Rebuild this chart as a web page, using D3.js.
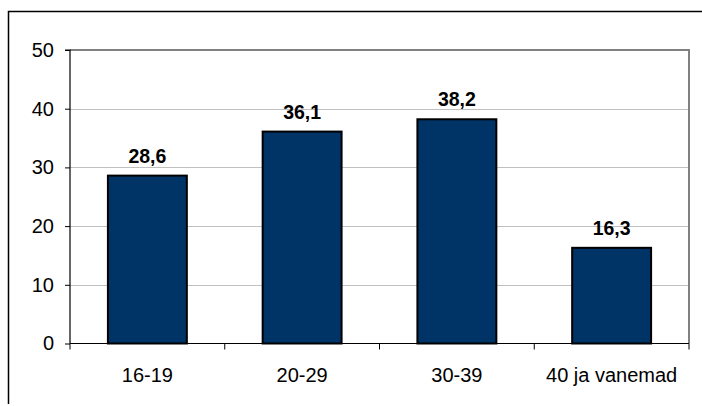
<!DOCTYPE html>
<html><head><meta charset="utf-8">
<script src="https://cdn.jsdelivr.net/npm/d3@7"></script>
<style>body{margin:0;background:#fff}svg{display:block}</style>
</head><body>
<script>
const categories = ["16-19", "20-29", "30-39", "40 ja vanemad"];
const values = [28.6, 36.1, 38.2, 16.3];
const yTicks = [0, 10, 20, 30, 40, 50];

const W = 702, H = 406;
const svg = d3.select("body").append("svg").attr("width", W).attr("height", H);
const L = 70, R = 689, T = 50, B = 343.5;
const font = "'Liberation Sans', Arial, sans-serif";
const fs = 20;

// outer border (top & left visible)
svg.append("path").attr("d", `M8.5,404 V11.5 H702`).attr("fill","none").attr("stroke","#000").attr("stroke-width",1.5);

const x = d3.scaleBand().domain(categories).range([L, R]).paddingInner(0.49).paddingOuter(0.245);
const xb = d3.scaleBand().domain(categories).range([L, R]);
const y = d3.scaleLinear().domain([0, 50]).range([B, T]);

// gridlines
svg.append("g").selectAll("line").data(yTicks.filter(d => d > 0 && d < 50)).join("line")
  .attr("x1", L).attr("x2", R).attr("y1", d => Math.round(y(d)) + 0.5).attr("y2", d => Math.round(y(d)) + 0.5)
  .attr("stroke", "#c0c0c0").attr("stroke-width", 1);

// plot border top/right
svg.append("path").attr("d", `M${L},${T} H${R} V${B}`).attr("fill","none").attr("stroke","#808080").attr("stroke-width",2);

// bars
svg.append("g").selectAll("rect").data(values).join("rect")
  .attr("x", (d,i) => x(categories[i]))
  .attr("width", x.bandwidth())
  .attr("y", d => y(d))
  .attr("height", d => B - y(d))
  .attr("fill", "#003366").attr("stroke", "#000").attr("stroke-width", 2);

// value labels
svg.append("g").selectAll("text").data(values).join("text")
  .attr("x", (d,i) => x(categories[i]) + x.bandwidth()/2)
  .attr("y", d => y(d) - 13)
  .attr("text-anchor", "middle")
  .attr("font-family", font).attr("font-size", 19.5).attr("font-weight", "bold")
  .text(d => d.toFixed(1).replace(".", ","));

// y axis
const yAxis = d3.axisLeft(y).tickValues(yTicks).tickSize(5).tickPadding(11);
const gy = svg.append("g").attr("transform", `translate(${L},0)`).call(yAxis);
gy.select(".domain").attr("d", `M-5,${T}H0V${B}`).attr("stroke","#000").attr("stroke-width",1.2);
gy.selectAll(".tick line").attr("stroke","#000");
gy.selectAll("text").attr("font-family", font).attr("font-size", fs).attr("fill","#000");

// x axis
const gx = svg.append("g").attr("transform", `translate(0,${B})`);
gx.append("line").attr("x1", L).attr("x2", R).attr("stroke","#000").attr("stroke-width",1.2);
const bounds = categories.map(c => xb(c)).concat([R]);
gx.selectAll("line.tk").data(bounds).join("line").attr("class","tk")
  .attr("x1", d => d).attr("x2", d => d).attr("y1", 0).attr("y2", 6).attr("stroke","#000");
gx.selectAll("text").data(categories).join("text")
  .attr("x", d => xb(d) + xb.bandwidth()/2).attr("y", 38.5)
  .attr("text-anchor","middle").attr("font-family", font).attr("font-size", fs).attr("fill","#000")
  .text(d => d);
</script>
</body></html>
